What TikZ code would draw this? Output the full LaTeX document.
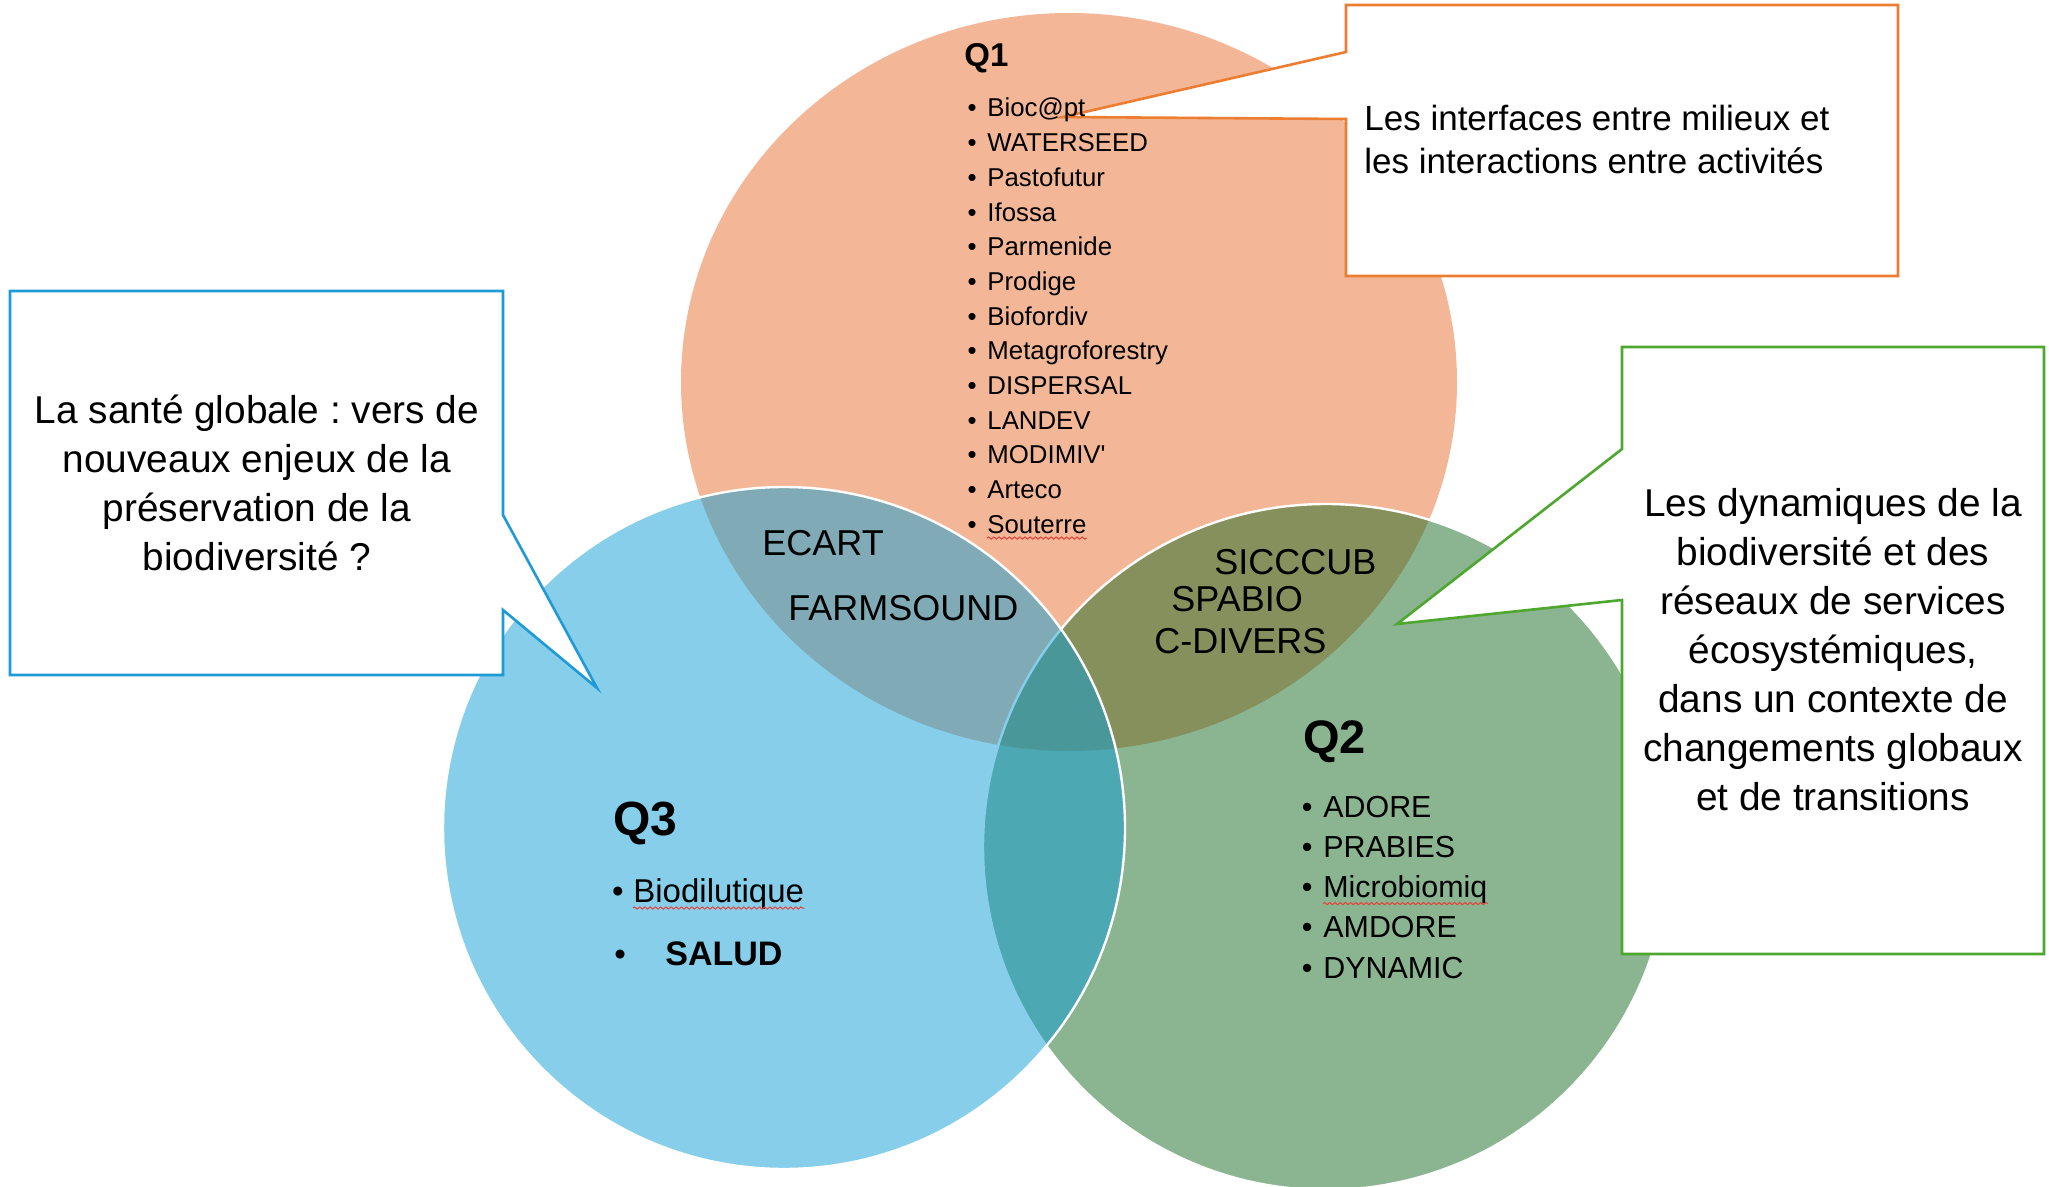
\documentclass[tikz,border=0pt]{standalone}
\usepackage{fontspec}
\setmainfont{Liberation Sans}
\usetikzlibrary{positioning,calc,decorations.pathmorphing}
\frenchspacing

\definecolor{qoneColor}{HTML}{E97132}
\definecolor{qtwoColor}{HTML}{196B24}
\definecolor{qthreeColor}{HTML}{0F9ED5}
\definecolor{qoneLine}{HTML}{ED7D31}
\definecolor{qtwoLine}{HTML}{4EA72E}
\definecolor{qthreeLine}{HTML}{1E9BD7}
\definecolor{spellRed}{HTML}{E5403B}

\newcommand{\qonefont}{\fontsize{12.9}{15}\selectfont}
\newcommand{\qtwofont}{\fontsize{15.2}{18}\selectfont}
\newcommand{\qthreefont}{\fontsize{16.5}{20}\selectfont}
\newcommand{\overlapfont}{\fontsize{18}{21}\selectfont}
\newcommand{\notefont}{\fontsize{19.4}{24.5}\selectfont}
\newcommand{\topnotefont}{\fontsize{17.5}{21.5}\selectfont}

\tikzset{
  vennfill/.style={fill opacity=0.5},
  venn/.style={fill opacity=0.5, draw=white, line width=1.2pt},
  callout/.style={fill=white, line width=1.3pt},
  notetext/.style={inner sep=0pt, align=center, font=\notefont},
  listentry/.style={anchor=base west, inner sep=0pt},
  bulletmark/.style={anchor=base east, inner sep=0pt},
  qtitle/.style={anchor=base west, inner sep=0pt},
  spellmark/.style={draw=spellRed, line width=0.5pt, decorate, decoration={snake, amplitude=0.55pt, segment length=2.6pt}}
}

\begin{document}
\begin{tikzpicture}[x=0.5pt,y=0.5pt,yscale=-1]
    \useasboundingbox (0,0) rectangle (2049,1187);
    \fill[white] (0,0) rectangle (2049,1187);

    %Shape: Ellipse [Q1]
    \fill[vennfill, fill=qoneColor] (1069,382) ellipse [x radius=388, y radius=369];
    %Shape: Circle [Q2]
    \draw[venn, fill=qtwoColor] (1326,847) circle [radius=343];
    %Shape: Circle [Q3]
    \draw[venn, fill=qthreeColor] (784,828) circle [radius=341];

    %Shape: Callout [Q1]
    \draw[callout, draw=qoneLine] (1346,5) -- (1898,5) -- (1898,276) -- (1346,276) -- (1346,119) -- (1063,117) -- (1346,52) -- cycle;
    %Shape: Callout [Q3]
    \draw[callout, draw=qthreeLine] (10,291) -- (503,291) -- (503,515) -- (597,688) -- (503,610) -- (503,675) -- (10,675) -- cycle;
    %Shape: Callout [Q2]
    \draw[callout, draw=qtwoLine] (1622,347) -- (2044,347) -- (2044,954) -- (1622,954) -- (1622,600) -- (1397,624) -- (1622,449) -- cycle;

    % Text Node
    \node[notetext, font=\topnotefont, align=left, anchor=west] (qonenote) at (1364,139) {Les interfaces entre milieux et\\les interactions entre activités};
    % Text Node
    \node[notetext] (qthreenote) at (257,483) {La santé globale : vers de\\nouveaux enjeux de la\\préservation de la\\biodiversité ?};
    % Text Node
    \node[notetext] (qtwonote) at (1833,650) {Les dynamiques de la\\biodiversité et des\\réseaux de services\\écosystémiques,\\dans un contexte de\\changements globaux\\et de transitions};

    % Q1 list
    \node[qtitle, font=\bfseries\fontsize{16.5}{20}\selectfont] (qonetitle) at (964,67) {Q1};
    \foreach \name [count=\i] in {Bioc@pt, WATERSEED, Pastofutur, Ifossa, Parmenide, Prodige, Biofordiv, Metagroforestry, DISPERSAL, LANDEV, MODIMIV\textquotesingle, Arteco, Souterre}{
      \node[listentry, font=\qonefont] (qone\i) at (987,{117+34.67*(\i-1)}) {\name};
      \node[font=\qonefont, left=5pt of qone\i.base west, bulletmark] (qonebul\i) {\textbullet};
    }
    \draw[spellmark] ($(qone13.base west)+(0,5)$) -- ($(qone13.base east)+(0,5)$);

    % Q2 list
    \node[qtitle, font=\bfseries\fontsize{23.5}{28}\selectfont] (qtwotitle) at (1303,753) {Q2};
    \foreach \name [count=\i] in {ADORE, PRABIES, Microbiomiq, AMDORE, DYNAMIC}{
      \node[listentry, font=\qtwofont] (qtwo\i) at (1323,{817+40.3*(\i-1)}) {\name};
      \node[font=\qtwofont, left=5pt of qtwo\i.base west, bulletmark] (qtwobul\i) {\textbullet};
    }
    \draw[spellmark] ($(qtwo3.base west)+(0,6)$) -- ($(qtwo3.base east)+(0,6)$);

    % Q3 list
    \node[qtitle, font=\bfseries\fontsize{24}{28}\selectfont] (qthreetitle) at (613,835) {Q3};
    \node[listentry, font=\qthreefont] (qthreeone) at (633,902) {Biodilutique};
    \node[font=\qthreefont, left=4.5pt of qthreeone.base west, bulletmark] (qthreebulone) {\textbullet};
    \draw[spellmark] ($(qthreeone.base west)+(0,6)$) -- ($(qthreeone.base east)+(0,6)$);
    \node[listentry, font=\bfseries\fontsize{17}{20}\selectfont] (qthreetwo) at (665,965) {SALUD};
    \node[font=\qthreefont, bulletmark, anchor=base west] (qthreebultwo) at (614,965) {\textbullet};

    % Overlap labels
    \node[listentry, font=\overlapfont] (ecart) at (762,555) {ECART};
    \node[listentry, font=\overlapfont] (farmsound) at (788,620) {FARMSOUND};
    \node[listentry, font=\overlapfont] (sicccub) at (1214,574) {SICCCUB};
    \node[listentry, font=\overlapfont] (spabio) at (1171,611) {SPABIO};
    \node[listentry, font=\overlapfont] (cdivers) at (1154,653) {C-DIVERS};
\end{tikzpicture}
\end{document}
